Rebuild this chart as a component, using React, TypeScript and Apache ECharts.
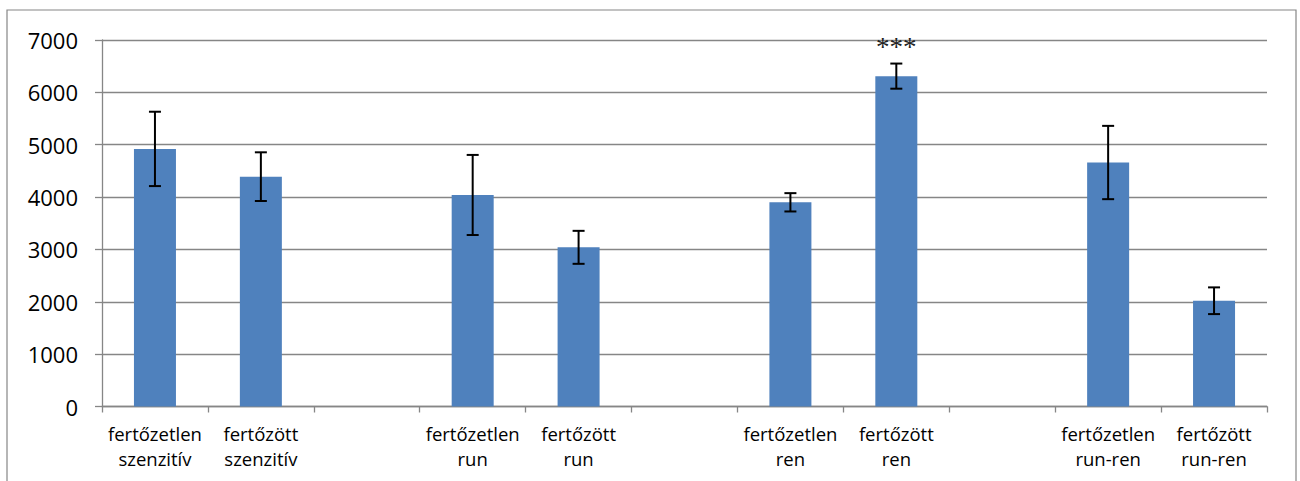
import React, { useEffect, useRef } from "react";
import * as echarts from "echarts";

// Groups with an empty category between them as a spacer
const categories = [
  "fertőzetlen\nszenzitív",
  "fertőzött\nszenzitív",
  "",
  "fertőzetlen\nrun",
  "fertőzött\nrun",
  "",
  "fertőzetlen\nren",
  "fertőzött\nren",
  "",
  "fertőzetlen\nrun-ren",
  "fertőzött\nrun-ren",
];
const means: (number | null)[] = [4920, 4390, null, 4040, 3040, null, 3900, 6310, null, 4660, 2020];
const errors: (number | null)[] = [710, 465, null, 765, 315, null, 175, 240, null, 700, 255];
const marks = ["", "", "", "", "", "", "", "***", "", "", ""];
const yTicks = { min: 0, max: 7000, interval: 1000 };

const GRID_COLOR = "#868686";
const BAR_COLOR = "#4F81BD";

export default function App() {
  const ref = useRef<HTMLDivElement>(null);

  useEffect(() => {
    document.body.style.margin = "0";
    if (!ref.current) return;
    const chart = echarts.init(ref.current, undefined, { renderer: "svg" });

    const errData = means
      .map((m, i) => (m == null || errors[i] == null ? null : [i, m - (errors[i] as number), m + (errors[i] as number)]))
      .filter((d) => d !== null);

    chart.setOption({
      animation: false,
      backgroundColor: "#ffffff",
      textStyle: { fontFamily: "Open Sans" },
      grid: { left: 102, right: 33, top: 40, bottom: 74.5, containLabel: false },
      graphic: [
        {
          type: "rect",
          shape: { x: 7, y: 10, width: 1289, height: 490 },
          style: { fill: "none", stroke: GRID_COLOR, lineWidth: 1.2 },
          silent: true,
          z: -1,
        },
      ],
      xAxis: {
        type: "category",
        data: categories,
        axisLine: { lineStyle: { color: GRID_COLOR, width: 1.3 } },
        axisTick: { show: true, length: 6, lineStyle: { color: GRID_COLOR, width: 1.3 } },
        axisLabel: {
          interval: 0,
          margin: 14,
          color: "#000",
          fontSize: 18.5,
          lineHeight: 25,
          fontFamily: "Open Sans",
        },
        splitLine: { show: false },
      },
      yAxis: {
        type: "value",
        min: yTicks.min,
        max: yTicks.max,
        interval: yTicks.interval,
        axisLine: { show: true, lineStyle: { color: GRID_COLOR, width: 1.3 } },
        axisTick: { show: true, length: 7, lineStyle: { color: GRID_COLOR, width: 1.3 } },
        axisLabel: {
          margin: 24,
          color: "#000",
          fontSize: 22,
          fontFamily: "Open Sans",
          formatter: (v: number) => String(v),
        },
        splitLine: { show: true, lineStyle: { color: GRID_COLOR, width: 1.3 } },
      },
      series: [
        {
          type: "bar",
          data: means,
          barWidth: 42,
          itemStyle: { color: BAR_COLOR },
          z: 2,
        },
        {
          type: "custom",
          data: errData,
          clip: false,
          z: 3,
          renderItem: (params: any, api: any) => {
            const idx = api.value(0);
            const top = api.coord([idx, api.value(2)]);
            const bot = api.coord([idx, api.value(1)]);
            const x = top[0];
            const half = 6;
            const stroke = { stroke: "#000", lineWidth: 2 };
            const children: any[] = [
              { type: "line", shape: { x1: x, y1: top[1], x2: x, y2: bot[1] }, style: stroke },
              { type: "line", shape: { x1: x - half, y1: top[1], x2: x + half, y2: top[1] }, style: stroke },
              { type: "line", shape: { x1: x - half, y1: bot[1], x2: x + half, y2: bot[1] }, style: stroke },
            ];
            const mark = marks[idx];
            if (mark) {
              children.push({
                type: "text",
                style: {
                  x,
                  y: top[1] - 17,
                  text: mark,
                  textAlign: "center",
                  textVerticalAlign: "middle",
                  fill: "#222",
                  fontSize: 27,
                  fontFamily: "Liberation Serif",
                },
              });
            }
            return { type: "group", children };
          },
        },
      ],
    });

    return () => chart.dispose();
  }, []);

  return <div ref={ref} style={{ width: 1300, height: 481 }} />;
}
